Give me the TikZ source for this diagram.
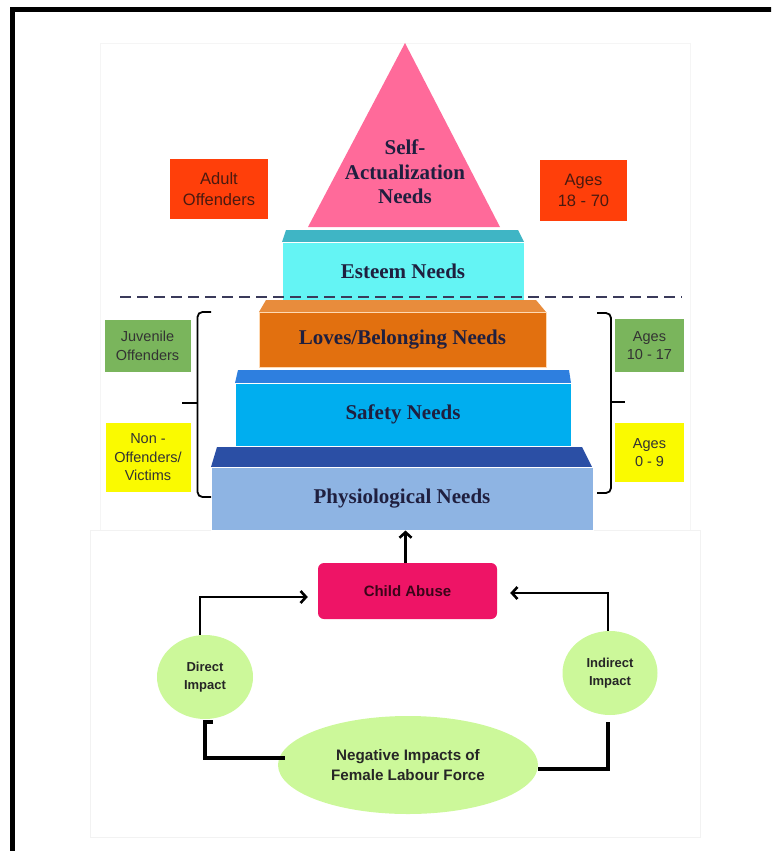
\documentclass[tikz,border=0pt]{standalone}
\usepackage{fontspec}
\setmainfont{Liberation Serif}
\newfontfamily\sansf{Liberation Sans}
\usetikzlibrary{arrows.meta,shapes.geometric,calc}
\definecolor{adultred}{HTML}{FF3F0A}
\definecolor{juvgreen}{HTML}{7AB55C}
\definecolor{boxyellow}{HTML}{FAFA00}
\definecolor{trianglepink}{HTML}{FF6A9A}
\definecolor{esteemtop}{HTML}{3FB5C5}
\definecolor{esteemfront}{HTML}{64F4F4}
\definecolor{lovestop}{HTML}{E88C3C}
\definecolor{lovesfront}{HTML}{E2700F}
\definecolor{safetytop}{HTML}{2E7FDF}
\definecolor{safetyfront}{HTML}{00AEEF}
\definecolor{phystop}{HTML}{2B4FA5}
\definecolor{physfront}{HTML}{8EB4E3}
\definecolor{abusepink}{HTML}{EE1466}
\definecolor{impactgreen}{HTML}{CCF89A}
\definecolor{labeldark}{HTML}{1F1F3F}
\definecolor{dashnavy}{HTML}{3A3A5A}
\definecolor{adulttext}{HTML}{4A1A10}
\begin{document}
\begin{tikzpicture}[x=1pt,y=-1pt,
  level/.style={draw=white, line width=1pt, minimum height=#1, inner sep=0pt,
    font=\fontsize{21}{24.5}\selectfont\bfseries, text=labeldark},
  sidebox/.style={inner sep=0pt, align=center, text=black!80,
    font=\sansf\fontsize{14.5}{18.5}\selectfont},
  topbox/.style={fill=adultred, inner sep=0pt, align=center, text=adulttext,
    minimum height=60pt, font=\sansf\fontsize{16.5}{21}\selectfont},
  impact/.style={ellipse, fill=impactgreen, inner sep=0pt, align=center, text=black!85,
    font=\sansf\bfseries\fontsize{13}{18}\selectfont},
  arr/.style={line width=2.8pt, -{Straight Barb[length=5.5pt,width=12pt,line width=2.6pt]}},
  link/.style={line width=3.8pt},
  brace/.style={line width=1.8pt, rounded corners=5pt}
]
\useasboundingbox (0,0) rectangle (771,851);
\clip (0,0) rectangle (771,851);
% faint image backgrounds
\draw[black!4, line width=0.8pt] (100,43) rectangle (690,530);
\draw[black!5, line width=0.8pt] (90,530) rectangle (700,837);
% frame
\draw[line width=5pt] (12.5,870) -- (12.5,10) -- (790,10);

% triangle
\fill[trianglepink] (405,43) -- (500,227) -- (308,227) -- cycle;
\node[font=\fontsize{21}{24.5}\selectfont\bfseries, text=labeldark, align=center] (self) at (405,172) {Self-\\Actualization\\Needs};

% esteem
\fill[esteemtop] (286,230) -- (518,230) -- (524,242) -- (282,242) -- cycle;
\node[level=58pt, fill=esteemfront, minimum width=242pt] (esteem) at (403,271) {Esteem Needs};
% loves
\fill[lovestop] (266,300) -- (536,300) -- (546,312) -- (259,312) -- cycle;
\node[level=55pt, fill=lovesfront, draw=orange!30, minimum width=287pt] (loves) at (402.5,339.5) {Loves/Belonging Needs};
% safety
\fill[safetytop] (238,370) -- (569,370) -- (571,383) -- (235,383) -- cycle;
\node[level=63pt, fill=safetyfront, minimum width=336pt] (safety) at (403,414.5) {Safety Needs};
% physiological
\fill[phystop] (217,447) -- (582,447) -- (592,467) -- (211,467) -- cycle;
\node[level=63pt, fill=physfront, minimum width=382pt] (phys) at (402,498.5) {Physiological Needs};

% dashed divider
\draw[dashnavy, line width=2.8pt, dash pattern=on 11pt off 6pt] (120,297) -- (682,297);

% top side boxes
\node[topbox, minimum width=98pt] (adult) at (219,189) {Adult\\Offenders};
\node[topbox, minimum width=87pt, minimum height=61pt] (ages1870) at (583.5,190.5) {Ages\\18 - 70};

% lower side boxes
\node[sidebox, fill=juvgreen, minimum width=86pt, minimum height=52pt] (juv) at (147.5,346) {Juvenile\\Offenders};
\node[sidebox, fill=boxyellow, minimum width=85pt, minimum height=69pt] (nonoff) at (148,457.5) {Non -\\Offenders/\\Victims};
\node[sidebox, fill=juvgreen, minimum width=69pt, minimum height=53pt] (ages1017) at (649.5,345.5) {Ages\\10 - 17};
\node[sidebox, fill=boxyellow, minimum width=69pt, minimum height=59pt] (ages09) at (649.5,452.5) {Ages\\0 - 9};

% braces
\draw[brace] (211,312) -| (197.5,497) -- (211,497);
\draw[line width=1.8pt] (197.5,403) -- (182,403);
\draw[brace] (597,313) -| (611,493) -- (597,493);
\draw[line width=1.8pt] (611,402) -- (625,402);

% bottom diagram
\node[rounded corners=6pt, fill=abusepink, minimum width=179pt, minimum height=56pt,
  font=\sansf\bfseries\fontsize{15}{18}\selectfont, text=black!75!abusepink] (abuse) at (407.5,591) {Child Abuse};
\node[impact, minimum width=96pt, minimum height=84pt] (direct) at (205,677) {Direct\\Impact};
\node[impact, minimum width=95pt, minimum height=84pt] (indirect) at (610,673) {Indirect\\Impact};
\node[impact, minimum width=260pt, minimum height=98pt,
  font=\sansf\bfseries\fontsize{15.2}{20}\selectfont] (negative) at (408,765) {Negative Impacts of\\Female Labour Force};

\draw[arr] (abuse.north) ++(-2,0) coordinate (abtop) -- (abtop |- phys.south);
\draw[arr, shorten >=10pt] ([xshift=-5pt]direct.north) |- ([yshift=-6pt]abuse.west);
\draw[arr, shorten >=13pt] ([xshift=-2pt]indirect.north) |- ([yshift=-2pt]abuse.east);
\draw[link] ([xshift=7pt,yshift=7pt]negative.west) -| ([yshift=-3pt]direct.south) -- ++(8,0);
\draw[link] ([yshift=-4pt]negative.east) -| ([xshift=-2pt,yshift=-7pt]indirect.south);
\end{tikzpicture}
\end{document}
